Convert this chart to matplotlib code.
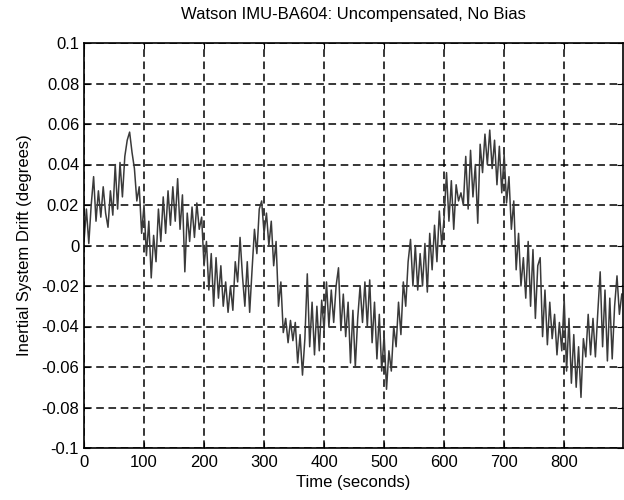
import numpy as np
import matplotlib
matplotlib.use('Agg')
import matplotlib.pyplot as plt

plt.rcParams['font.family'] = ['Liberation Sans', 'DejaVu Sans']

# drift, one sample every 4 s, in thousandths of a degree
sample_step = 4
drift_mdeg = [
    2, 18, 1, 20, 34, 12, 27, 14, 29, 16, 9, 27, 15, 40, 18, 41, 24, 44, 52, 56,
    46, 38, 22, 29, 6, 20, -5, 12, -16, 5, -8, 18, 2, 24, 6, 27, 10, 29, 12, 33,
    8, 25, -13, 16, 2, 19, 4, 21, 8, 14, -10, 2, -22, -4, -30, -6, -26, -10, -30, -18,
    -33, -20, -32, -8, -18, 4, -15, -30, -8, -33, -12, 8, -4, 18, 22, 6, 16, 0, 12, -10,
    2, -30, -18, -43, -36, -48, -37, -47, -38, -58, -44, -64, -46, -14, -50, -28, -54, -30, -52, -27,
    -42, -18, -40, -22, -38, -20, -11, -42, -24, -45, -28, -58, -32, -60, -36, -20, -38, -18, -40, -17,
    -48, -28, -56, -34, -62, -44, -71, -52, -62, -40, -50, -28, -44, -18, -30, -8, 3, -20, 0, -22,
    -4, -20, 1, -23, 6, -12, 10, -8, 17, 0, 14, 36, 12, 32, 8, 30, 22, 26, 20, 44,
    18, 47, 24, 40, 11, 50, 36, 55, 40, 57, 38, 52, 30, 49, 26, 45, 21, 34, 8, 22,
    -12, 6, -20, -6, -26, 2, -30, -2, -36, -10, -6, -45, -22, -49, -28, -46, -34, -54, -38, -52,
    -26, -62, -36, -68, -44, -70, -50, -75, -46, -55, -34, -54, -36, -55, -33, -13, -50, -22, -57, -26,
    -56, -30, -15, -34, -24,
]

x_ticks = [0, 100, 200, 300, 400, 500, 600, 700, 800]
y_ticks = [-0.1, -0.08, -0.06, -0.04, -0.02, 0, 0.02, 0.04, 0.06, 0.08, 0.1]

drift = np.array(drift_mdeg) / 1000.0
t = np.arange(len(drift)) * sample_step

fig = plt.figure(figsize=(6.24, 5.0), dpi=100)
ax = fig.add_axes([84 / 624, 52 / 500, (623 - 84) / 624, (448 - 43) / 500])

ax.plot(t, drift, color='#3a3a3a', lw=1.1)

ax.set_xlim(0, 898)
ax.set_ylim(-0.1, 0.1)
ax.set_xticks(x_ticks)
ax.set_yticks(y_ticks)
ax.set_yticklabels(['-0.1', '-0.08', '-0.06', '-0.04', '-0.02', '0',
                    '0.02', '0.04', '0.06', '0.08', '0.1'])
ax.grid(True, color='black', linestyle=(0, (5, 3)), linewidth=1.1)
ax.tick_params(direction='in', length=4, labelsize=12, top=True, right=True)
ax.tick_params(axis='x', pad=5)
for s in ax.spines.values():
    s.set_linewidth(1.2)

ax.set_title('Watson IMU-BA604: Uncompensated, No Bias', fontsize=12, pad=17)
ax.set_xlabel('Time (seconds)', fontsize=12, labelpad=4)
ax.set_ylabel('Inertial System Drift (degrees)', fontsize=12, labelpad=7)

fig.savefig('out.png', dpi=100)
